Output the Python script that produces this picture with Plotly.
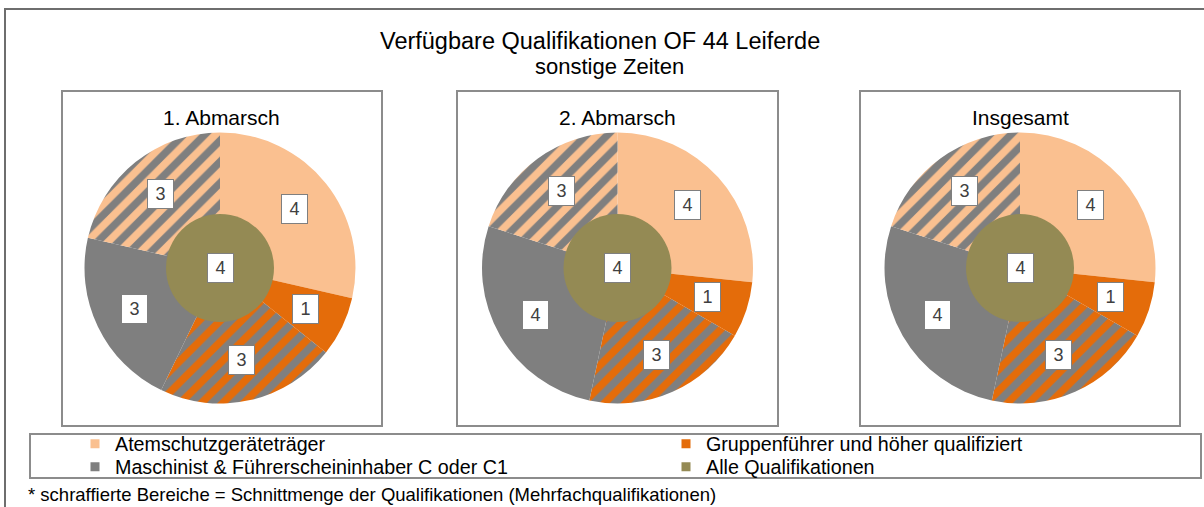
import math
import plotly.graph_objects as go

W, H = 1204, 507

# Daten
segmente = [
    "Atemschutzgeräteträger",
    "Gruppenführer und höher qualifiziert",
    "Gruppenführer + Maschinist",
    "Maschinist & Führerscheininhaber C oder C1",
    "Atemschutzgeräteträger + Maschinist",
]
abmarsch_1 = [4, 1, 3, 3, 3]
abmarsch_2 = [4, 1, 3, 4, 3]
insgesamt = [4, 1, 3, 4, 3]
alle_qualifikationen = [4, 4, 4]
panel_titel = ["1. Abmarsch", "2. Abmarsch", "Insgesamt"]

legende = [
    "Atemschutzgeräteträger",
    "Gruppenführer und höher qualifiziert",
    "Maschinist & Führerscheininhaber C oder C1",
    "Alle Qualifikationen",
]

# Farben / Muster
HELLORANGE = "#FAC090"
ORANGE = "#E46C0A"
GRAU = "#7F7F7F"
OLIV = "#948A54"
seg_farben = [HELLORANGE, ORANGE, ORANGE, GRAU, HELLORANGE]
seg_muster = ["", "", "/", "", "/"]
legende_farben = [HELLORANGE, ORANGE, GRAU, OLIV]

FONT = "Liberation Sans, Arial, sans-serif"

# Geometrie in Pixeln
centers_x = [220, 617.5, 1020]
CY = 268
R_AUSSEN = 135.5
R_INNEN = 54
panel_boxen = [(62, 382), (457, 778), (860, 1180)]
# Legendenplätze (links, Zeilenmitte)
legende_pos = [(75, 444), (666, 444), (75, 467), (666, 467)]


def px(x):
    return x / W


def py(y):
    return 1 - y / H


fig = go.Figure()

daten = [abmarsch_1, abmarsch_2, insgesamt]
annotations = []
for i, werte in enumerate(daten):
    cx = centers_x[i]
    fig.add_trace(go.Pie(
        labels=segmente,
        values=werte,
        sort=False,
        direction="clockwise",
        rotation=0,
        hole=0.38,
        textinfo="none",
        showlegend=False,
        marker=dict(
            colors=seg_farben,
            line=dict(width=0),
            pattern=dict(shape=seg_muster, fgcolor=GRAU, bgcolor=seg_farben,
                         size=15, solidity=0.5),
        ),
        domain=dict(x=[px(cx - R_AUSSEN), px(cx + R_AUSSEN)],
                    y=[py(CY + R_AUSSEN), py(CY - R_AUSSEN)]),
    ))
    fig.add_trace(go.Pie(
        labels=["Alle Qualifikationen"],
        values=[alle_qualifikationen[i]],
        sort=False,
        textinfo="none",
        showlegend=False,
        marker=dict(colors=[OLIV], line=dict(width=0)),
        domain=dict(x=[px(cx - R_INNEN), px(cx + R_INNEN)],
                    y=[py(CY + R_INNEN), py(CY - R_INNEN)]),
    ))

    # Beschriftungen der Segmente (Mitte des Rings)
    total = sum(werte)
    rm = (R_AUSSEN + R_INNEN) / 2
    kum = 0
    for v in werte:
        theta = 2 * math.pi * (kum + v / 2) / total
        kum += v
        annotations.append(dict(
            x=px(cx + rm * math.sin(theta)), y=py(CY - rm * math.cos(theta)),
            text=str(v),
        ))
    annotations.append(dict(x=px(cx), y=py(CY), text=str(alle_qualifikationen[i])))

for a in annotations:
    a.update(xref="paper", yref="paper", showarrow=False, xanchor="center", yanchor="middle",
             bgcolor="white", bordercolor=GRAU, borderwidth=1, borderpad=4, width=17, height=20,
             font=dict(family=FONT, size=18, color="#404040"))

# Legende: je Eintrag eine eigene Legende, damit die zwei Spalten exakt sitzen
legenden_layout = {}
for k, (name, farbe) in enumerate(zip(legende, legende_farben)):
    lname = "legend" if k == 0 else f"legend{k + 1}"
    fig.add_trace(go.Scatter(
        x=[None], y=[None], mode="markers", name=name,
        marker=dict(symbol="square", size=9, color=farbe),
        legend=lname,
    ))
    lx, ly = legende_pos[k]
    legenden_layout[lname] = dict(
        orientation="h", xanchor="left", yanchor="middle", x=px(lx), y=py(ly),
        bgcolor="rgba(0,0,0,0)", borderwidth=0,
        font=dict(family=FONT, size=19.7, color="black"),
    )

# Titel / Texte
texte = [
    dict(x=px(600), y=py(41), text="Verfügbare Qualifikationen OF 44 Leiferde", font=dict(size=23.5)),
    dict(x=px(609), y=py(66), text="sonstige Zeiten", font=dict(size=22)),
]
for i, t in enumerate(panel_titel):
    x0, x1 = panel_boxen[i]
    texte.append(dict(x=px((x0 + x1) / 2), y=py(117), text=t, font=dict(size=21)))
texte.append(dict(
    x=px(26), y=py(494), xanchor="left",
    text="* schraffierte Bereiche = Schnittmenge der Qualifikationen (Mehrfachqualifikationen)",
    font=dict(size=18.5),
))
for t in texte:
    t.setdefault("xanchor", "center")
    t.update(xref="paper", yref="paper", showarrow=False, yanchor="middle")
    t["font"] = dict(family=FONT, color="black", **t["font"])

shapes = [
    dict(type="rect", xref="paper", yref="paper", x0=px(5), y0=py(9), x1=1.02, y1=-0.05,
         line=dict(color="#6E6E6E", width=2)),
    dict(type="rect", xref="paper", yref="paper", x0=px(30), y0=py(434), x1=px(1201), y1=py(478),
         line=dict(color="#8C8C8C", width=2)),
]
for x0, x1 in panel_boxen:
    shapes.append(dict(type="rect", xref="paper", yref="paper", x0=px(x0), y0=py(91),
                       x1=px(x1), y1=py(426), line=dict(color="#8C8C8C", width=2)))

fig.update_layout(
    width=W, height=H,
    margin=dict(l=0, r=0, t=0, b=0),
    paper_bgcolor="white", plot_bgcolor="white",
    xaxis=dict(visible=False), yaxis=dict(visible=False),
    shapes=shapes,
    annotations=texte + annotations,
    font=dict(family=FONT),
    **legenden_layout,
)

fig.write_html("out.html", config={"displayModeBar": False},
               post_script="document.body.style.margin='0px';")
